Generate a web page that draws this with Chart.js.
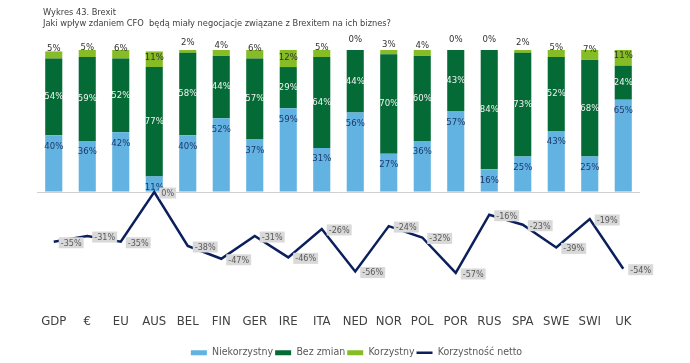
<!DOCTYPE html>
<html>
<head>
<meta charset="utf-8">
<script src="https://cdn.jsdelivr.net/npm/chart.js@4.4.1/dist/chart.umd.min.js"></script>
<style>
  html, body { margin: 0; padding: 0; background: #fff; }
</style>
</head>
<body>
<canvas id="chart" width="690" height="363"></canvas>
<script>
const FONT = '"Liberation Sans Narrow", "DejaVu Sans Condensed", "Liberation Sans", sans-serif';

const titleLines = [
    'Wykres 43. Brexit',
    'Jaki wpływ zdaniem CFO  będą miały negocjacje związane z Brexitem na ich biznes?'
];
const countries = ['GDP', '€', 'EU', 'AUS', 'BEL', 'FIN', 'GER', 'IRE', 'ITA', 'NED', 'NOR', 'POL', 'POR', 'RUS', 'SPA', 'SWE', 'SWI', 'UK'];
const niekorzystny = [40, 36, 42, 11, 40, 52, 37, 59, 31, 56, 27, 36, 57, 16, 25, 43, 25, 65];
const bezZmian = [54, 59, 52, 77, 58, 44, 57, 29, 64, 44, 70, 60, 43, 84, 73, 52, 68, 24];
const korzystny = [5, 5, 6, 11, 2, 4, 6, 12, 5, 0, 3, 4, 0, 0, 2, 5, 7, 11];
const netto = [-35, -31, -35, 0, -38, -47, -31, -46, -26, -56, -24, -32, -57, -16, -23, -39, -19, -54];

const LIGHT_BLUE = '#62b2e2';
const DARK_GREEN = '#056b36';
const LIGHT_GREEN = '#86bc25';
const NAVY = '#0b1f5c';

Chart.defaults.font.family = FONT;

// title text at the top left
const titlePlugin = {
    id: 'titleText',
    afterDraw(chart) {
        const c = chart.ctx;
        c.save();
        c.font = '9.2px ' + FONT;
        c.fillStyle = '#404040';
        c.textBaseline = 'middle';
        c.fillText(titleLines[0], 43, 13);
        c.fillText(titleLines[1], 43, 24);
        c.restore();
    }
};

// legend sits a bit right of the plot centre in the original
const legendShift = {
    id: 'legendShift',
    afterLayout(chart) {
        chart.legend.left += 18;
        chart.legend.right += 18;
    }
};

// value labels on bars and line points
const valueLabels = {
    id: 'valueLabels',
    afterDatasetsDraw(chart) {
        const c = chart.ctx;
        c.save();
        c.textAlign = 'center';
        c.textBaseline = 'middle';

        chart.data.datasets.forEach((ds, i) => {
            const meta = chart.getDatasetMeta(i);
            meta.data.forEach((el, j) => {
                const v = ds.data[j];
                const txt = v + '%';
                c.font = '9.5px ' + FONT;
                if (i === 0) {
                    c.fillStyle = '#1b3a6b';
                    c.fillText(txt, el.x, el.y + 11);
                } else if (i === 1) {
                    c.fillStyle = '#f2f2f2';
                    c.fillText(txt, el.x, (el.y + el.base) / 2);
                } else if (i === 2) {
                    c.fillStyle = '#333333';
                    c.fillText(txt, el.x, el.base - 10);
                } else {
                    c.font = '9px ' + FONT;
                    const w = c.measureText(txt).width + 4;
                    const bx = el.x + 5;
                    const by = el.y + 1;
                    c.fillStyle = '#d9d9d9';
                    c.fillRect(bx, by - 5.5, w, 11);
                    c.fillStyle = '#595959';
                    c.fillText(txt, bx + w / 2, by + 0.5);
                }
            });
        });
        c.restore();
    }
};

const ctx = document.getElementById('chart').getContext('2d');
const chart = new Chart(ctx, {
    type: 'bar',
    data: {
        labels: countries,
        datasets: [
            {
                label: 'Niekorzystny',
                data: niekorzystny,
                backgroundColor: LIGHT_BLUE,
                stack: 'bars',
                order: 1,
                pointStyle: 'rect',
                categoryPercentage: 1,
                barPercentage: 0.51
            },
            {
                label: 'Bez zmian',
                data: bezZmian,
                backgroundColor: DARK_GREEN,
                stack: 'bars',
                order: 1,
                pointStyle: 'rect',
                categoryPercentage: 1,
                barPercentage: 0.51
            },
            {
                label: 'Korzystny',
                data: korzystny,
                backgroundColor: LIGHT_GREEN,
                stack: 'bars',
                order: 1,
                pointStyle: 'rect',
                categoryPercentage: 1,
                barPercentage: 0.51
            },
            {
                type: 'line',
                label: 'Korzystność netto',
                data: netto,
                borderColor: NAVY,
                backgroundColor: NAVY,
                borderWidth: 2.5,
                borderJoinStyle: 'miter',
                pointRadius: 0,
                pointStyle: 'line',
                tension: 0,
                fill: false,
                stack: 'net',
                order: 0
            }
        ]
    },
    options: {
        responsive: false,
        animation: false,
        devicePixelRatio: 1,
        layout: {
            padding: { top: 50, left: 37, right: 50, bottom: -5 }
        },
        plugins: {
            tooltip: { enabled: false },
            legend: {
                position: 'bottom',
                labels: {
                    usePointStyle: true,
                    pointStyleWidth: 16,
                    boxHeight: 5,
                    padding: 2,
                    color: '#595959',
                    font: { size: 10.5 },
                    sort: (a, b) => a.datasetIndex - b.datasetIndex
                }
            }
        },
        scales: {
            x: {
                stacked: true,
                grid: { display: false, drawTicks: false },
                border: { display: false },
                ticks: {
                    color: '#404040',
                    font: { size: 13 },
                    padding: 4,
                    autoSkip: false,
                    maxRotation: 0,
                    minRotation: 0
                },
                afterFit: (scale) => { scale.height += 12; }
            },
            y: {
                stacked: true,
                min: -83,
                max: 100,
                border: { display: false },
                grid: {
                    drawTicks: false,
                    color: (c) => c.tick && c.tick.value === 0 ? '#d0d0d0' : 'rgba(0,0,0,0)'
                },
                ticks: { display: false, stepSize: 20 }
            }
        }
    },
    plugins: [titlePlugin, legendShift, valueLabels]
});
</script>
</body>
</html>
